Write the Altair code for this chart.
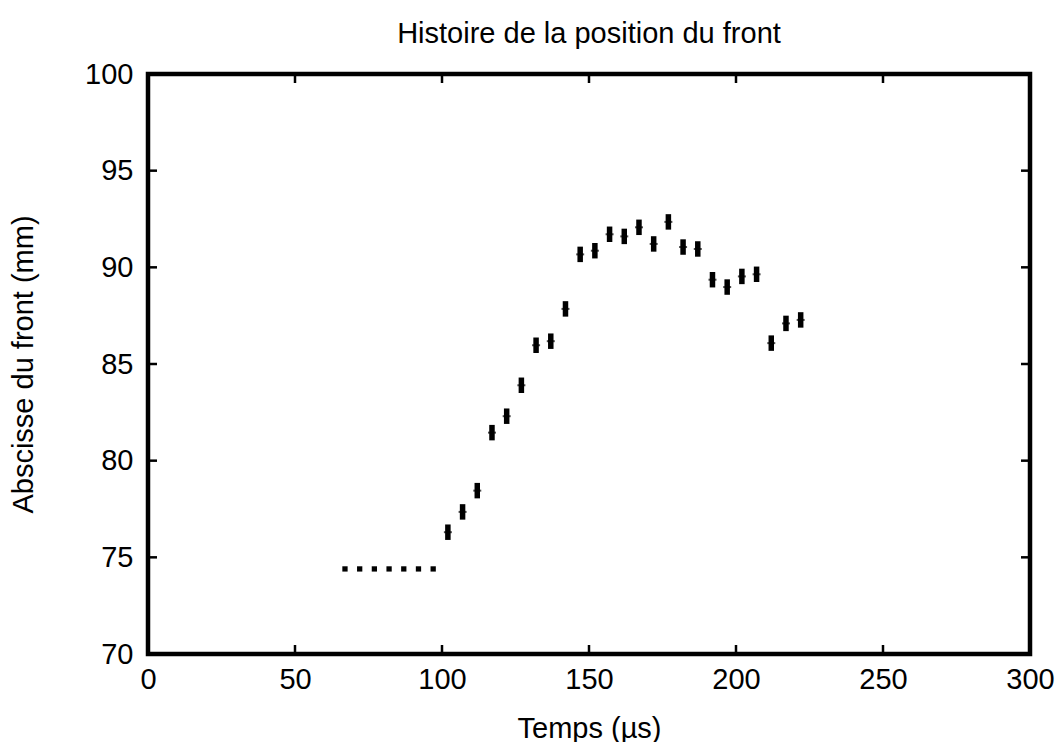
import altair as alt
import pandas as pd

# measured data (time in µs, front position in mm)
t_flat = [67, 72, 77, 82, 87, 92, 97]
y_flat = [74.4, 74.4, 74.4, 74.4, 74.4, 74.4, 74.4]

t_err = [102, 107, 112, 117, 122, 127, 132, 137, 142, 147, 152, 157, 162,
         167, 172, 177, 182, 187, 192, 197, 202, 207, 212, 217, 222]
y_err = [76.3, 77.35, 78.45, 81.45, 82.3, 83.9, 85.97, 86.18, 87.85, 90.67,
         90.86, 91.71, 91.6, 92.07, 91.21, 92.35, 91.05, 90.95, 89.36, 88.98,
         89.53, 89.64, 86.08, 87.1, 87.28]
err = [0.4] * len(t_err)

x_ticks = [0, 50, 100, 150, 200, 250, 300]
y_ticks = [70, 75, 80, 85, 90, 95, 100]

W, H = 882, 580
FONT = "Liberation Sans"

df_flat = pd.DataFrame({"t": t_flat, "y": y_flat})
df_err = pd.DataFrame({"t": t_err, "y": y_err, "e": err})
df_err["lo"] = df_err["y"] - df_err["e"]
df_err["hi"] = df_err["y"] + df_err["e"]
df_xt = pd.DataFrame({"v": x_ticks})
df_yt = pd.DataFrame({"v": y_ticks})

xs = alt.Scale(domain=[0, 300], nice=False, zero=False)
ys = alt.Scale(domain=[70, 100], nice=False, zero=False)

base_x = alt.X("t:Q", scale=xs,
               axis=alt.Axis(values=x_ticks, title="Temps (µs)", grid=False,
                             domain=False, ticks=False, labelPadding=11,
                             titlePadding=20, labelFlush=False))
base_y = alt.Y("y:Q", scale=ys,
               axis=alt.Axis(values=y_ticks, title="Abscisse du front (mm)",
                             grid=False, domain=False, ticks=False,
                             labelPadding=15, titlePadding=46, labelFlush=False))

flat = alt.Chart(df_flat).mark_square(size=28, color="black", opacity=1).encode(
    x=base_x, y=base_y)

bars = alt.Chart(df_err).mark_rule(color="black", strokeWidth=5.5).encode(
    x=alt.X("t:Q", scale=xs),
    y=alt.Y("lo:Q", scale=ys),
    y2="hi:Q")

centers = alt.Chart(df_err).mark_tick(color="black", orient="horizontal",
                                      size=8, thickness=2).encode(
    x=alt.X("t:Q", scale=xs), y=alt.Y("y:Q", scale=ys))

TL = 9
tick_top = alt.Chart(df_xt).mark_rule(color="black", strokeWidth=2.5).encode(
    x=alt.X("v:Q", scale=xs), y=alt.value(0), y2=alt.value(TL))
tick_bot = alt.Chart(df_xt).mark_rule(color="black", strokeWidth=2.5).encode(
    x=alt.X("v:Q", scale=xs), y=alt.value(H), y2=alt.value(H - TL))
tick_left = alt.Chart(df_yt).mark_rule(color="black", strokeWidth=2.5).encode(
    y=alt.Y("v:Q", scale=ys), x=alt.value(0), x2=alt.value(TL))
tick_right = alt.Chart(df_yt).mark_rule(color="black", strokeWidth=2.5).encode(
    y=alt.Y("v:Q", scale=ys), x=alt.value(W), x2=alt.value(W - TL))

chart = alt.layer(flat, bars, centers, tick_top, tick_bot, tick_left, tick_right).properties(
    width=W, height=H,
    title=alt.TitleParams("Histoire de la position du front", font=FONT,
                          fontSize=29, fontWeight="normal", color="black",
                          anchor="middle", offset=11),
    autosize=alt.AutoSizeParams(type="none"),
    padding={"left": 140, "top": 66, "right": 26, "bottom": 88},
).configure_view(stroke="black", strokeWidth=4.5
).configure_axis(labelFont=FONT, titleFont=FONT, labelFontSize=29,
                 titleFontSize=29, titleFontWeight="normal", labelColor="black",
                 titleColor="black")

chart.save("out.html", embed_options={"renderer": "svg", "actions": False})
